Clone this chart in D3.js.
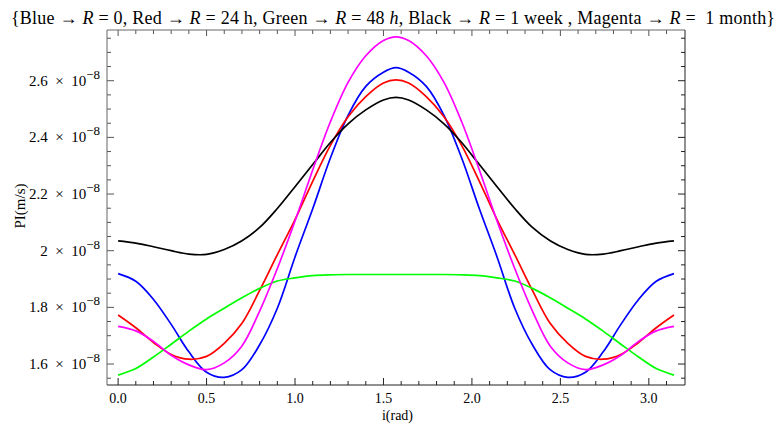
<!DOCTYPE html>
<html lang="en">
<head>
    <meta charset="UTF-8">
    <script src="https://d3js.org/d3.v7.min.js"></script>
    <style>
        body { margin: 0; background: white; }
        text { font-family: "Liberation Serif", "Times New Roman", serif; fill: black; }
    </style>
</head>
<body>
    <svg id="chart" width="778" height="432"></svg>

    <script>
        // i (rad), values of PI in units of 1e-8 m/s
        const iRad = [0, 0.1, 0.2, 0.3, 0.4, 0.5, 0.6, 0.7, 0.8, 0.9, 1.0, 1.1, 1.2, 1.3, 1.4, 1.5, 1.571,
                      1.642, 1.742, 1.842, 1.942, 2.042, 2.142, 2.242, 2.342, 2.442, 2.542, 2.642, 2.742, 2.842, 2.942, 3.042, 3.142];
        const blueVals = [1.919, 1.892, 1.828, 1.740, 1.643, 1.571, 1.553, 1.580, 1.668, 1.797, 1.978, 2.148, 2.327, 2.478, 2.580, 2.630, 2.646,
                          2.630, 2.580, 2.478, 2.327, 2.148, 1.978, 1.797, 1.668, 1.580, 1.553, 1.571, 1.643, 1.740, 1.828, 1.892, 1.919];
        const redVals = [1.773, 1.728, 1.676, 1.634, 1.617, 1.627, 1.673, 1.744, 1.860, 1.986, 2.110, 2.245, 2.372, 2.473, 2.544, 2.592, 2.603,
                         2.592, 2.544, 2.473, 2.372, 2.245, 2.110, 1.986, 1.860, 1.744, 1.673, 1.627, 1.617, 1.634, 1.676, 1.728, 1.773];
        const greenVals = [1.561, 1.584, 1.625, 1.670, 1.716, 1.759, 1.797, 1.834, 1.867, 1.893, 1.904, 1.912, 1.915, 1.916, 1.916, 1.916, 1.916,
                           1.916, 1.916, 1.916, 1.915, 1.912, 1.904, 1.893, 1.867, 1.834, 1.797, 1.759, 1.716, 1.670, 1.625, 1.584, 1.561];
        const blackVals = [2.035, 2.027, 2.014, 2.000, 1.988, 1.987, 2.004, 2.035, 2.082, 2.149, 2.226, 2.304, 2.382, 2.448, 2.497, 2.532, 2.541,
                           2.532, 2.497, 2.448, 2.382, 2.304, 2.226, 2.149, 2.082, 2.035, 2.004, 1.987, 1.988, 2.000, 2.014, 2.027, 2.035];
        const magentaVals = [1.733, 1.717, 1.680, 1.631, 1.597, 1.580, 1.604, 1.664, 1.787, 1.937, 2.105, 2.285, 2.455, 2.594, 2.688, 2.742, 2.755,
                             2.742, 2.688, 2.594, 2.455, 2.285, 2.105, 1.937, 1.787, 1.664, 1.604, 1.580, 1.597, 1.631, 1.680, 1.717, 1.733];

        const seriesNames = ["Blue", "Red", "Green", "Black", "Magenta"];
        const seriesColors = ["#0000ff", "#ff0000", "#00ff00", "#000000", "#ff00ff"];
        const seriesVals = [blueVals, redVals, greenVals, blackVals, magentaVals];

        const xMajor = [0, 0.5, 1.0, 1.5, 2.0, 2.5, 3.0];
        const yMajor = [1.6, 1.8, 2.0, 2.2, 2.4, 2.6];
        const yMajorLabels = ["1.6", "1.8", "2", "2.2", "2.4", "2.6"];

        const width = 778, height = 432;
        const margin = { top: 30, right: 93, bottom: 47, left: 107 };

        const svg = d3.select("#chart");

        const x = d3.scaleLinear()
            .domain([-0.0628, 3.2044])
            .range([margin.left, width - margin.right]);
        const y = d3.scaleLinear()
            .domain([1.526, 2.779])
            .range([height - margin.bottom, margin.top]);

        // title
        const title = svg.append("text")
            .attr("x", 11)
            .attr("y", 24)
            .attr("textLength", 764)
            .attr("lengthAdjust", "spacing")
            .style("font-size", "18px");
        const parts = [
            ["{Blue \u2192 ", false], ["R", true], [" = 0, Red \u2192 ", false], ["R", true],
            [" = 24 h, Green \u2192 ", false], ["R", true], [" = 48 ", false], ["h", true],
            [", Black \u2192 ", false], ["R", true], [" = 1 week , Magenta \u2192 ", false], ["R", true],
            [" =  1 month}", false]
        ];
        parts.forEach(p => {
            title.append("tspan")
                .style("font-style", p[1] ? "italic" : "normal")
                .attr("xml:space", "preserve")
                .text(p[0]);
        });

        // ticks, pointing inward
        const xMinor = d3.range(0, 32).map(k => k / 10).filter(v => !xMajor.some(m => Math.abs(m - v) < 1e-6));
        const yMinor = d3.range(31, 56).map(k => k / 20).filter(v => !yMajor.some(m => Math.abs(m - v) < 1e-6));

        const frame = svg.append("g");
        const x0 = margin.left, x1 = width - margin.right;
        const y0 = height - margin.bottom, y1 = margin.top;

        function tickLine(x1_, y1_, x2_, y2_, col) {
            frame.append("line")
                .attr("x1", x1_).attr("y1", y1_).attr("x2", x2_).attr("y2", y2_)
                .attr("stroke", col).attr("stroke-width", 1);
        }

        xMajor.forEach(v => {
            tickLine(x(v), y0, x(v), y0 - 7, "#222");
            tickLine(x(v), y1, x(v), y1 + 6, "#555");
        });
        xMinor.forEach(v => {
            tickLine(x(v), y0, x(v), y0 - 4, "#222");
            tickLine(x(v), y1, x(v), y1 + 4, "#555");
        });
        yMajor.forEach(v => {
            tickLine(x0, y(v), x0 + 7, y(v), "#555");
            tickLine(x1, y(v), x1 - 7, y(v), "#222");
        });
        yMinor.forEach(v => {
            tickLine(x0, y(v), x0 + 4, y(v), "#555");
            tickLine(x1, y(v), x1 - 4, y(v), "#222");
        });

        // curves
        const line = d3.line()
            .x((d, i) => x(iRad[i]))
            .y(d => y(d))
            .curve(d3.curveCatmullRom.alpha(0.5));

        svg.append("g").selectAll("path")
            .data(seriesVals)
            .enter().append("path")
            .attr("d", d => line(d))
            .attr("fill", "none")
            .attr("stroke", (d, i) => seriesColors[i])
            .attr("stroke-width", 1.7)
            .attr("stroke-linejoin", "round");

        // frame
        frame.append("line").attr("x1", x0).attr("x2", x1).attr("y1", y0).attr("y2", y0).attr("stroke", "#222");
        frame.append("line").attr("x1", x0).attr("x2", x1).attr("y1", y1).attr("y2", y1).attr("stroke", "#666");
        frame.append("line").attr("x1", x0).attr("x2", x0).attr("y1", y0).attr("y2", y1).attr("stroke", "#666");
        frame.append("line").attr("x1", x1).attr("x2", x1).attr("y1", y0).attr("y2", y1).attr("stroke", "#222");
        frame.raise();

        // tick labels
        svg.selectAll(".xlab")
            .data(xMajor)
            .enter().append("text")
            .attr("class", "xlab")
            .attr("x", d => x(d))
            .attr("y", y0 + 18)
            .attr("text-anchor", "middle")
            .style("font-size", "14px")
            .text(d => d.toFixed(1));

        yMajor.forEach((v, k) => {
            const t = svg.append("text")
                .attr("x", x0 - 7)
                .attr("y", y(v) + 5)
                .attr("text-anchor", "end")
                .attr("xml:space", "preserve")
                .style("font-size", "15px");
            t.append("tspan").text(yMajorLabels[k] + "  \u00d7  10");
            t.append("tspan").attr("dy", -7).style("font-size", "13px").text("\u22128");
        });

        // axis titles
        svg.append("text")
            .attr("x", x(1.5) + 14)
            .attr("y", 420)
            .attr("text-anchor", "middle")
            .style("font-size", "14px")
            .text("i(rad)");

        svg.append("text")
            .attr("transform", `translate(25,206) rotate(-90)`)
            .attr("text-anchor", "middle")
            .style("font-size", "15px")
            .text("PI(m/s)");
    </script>
</body>
</html>
